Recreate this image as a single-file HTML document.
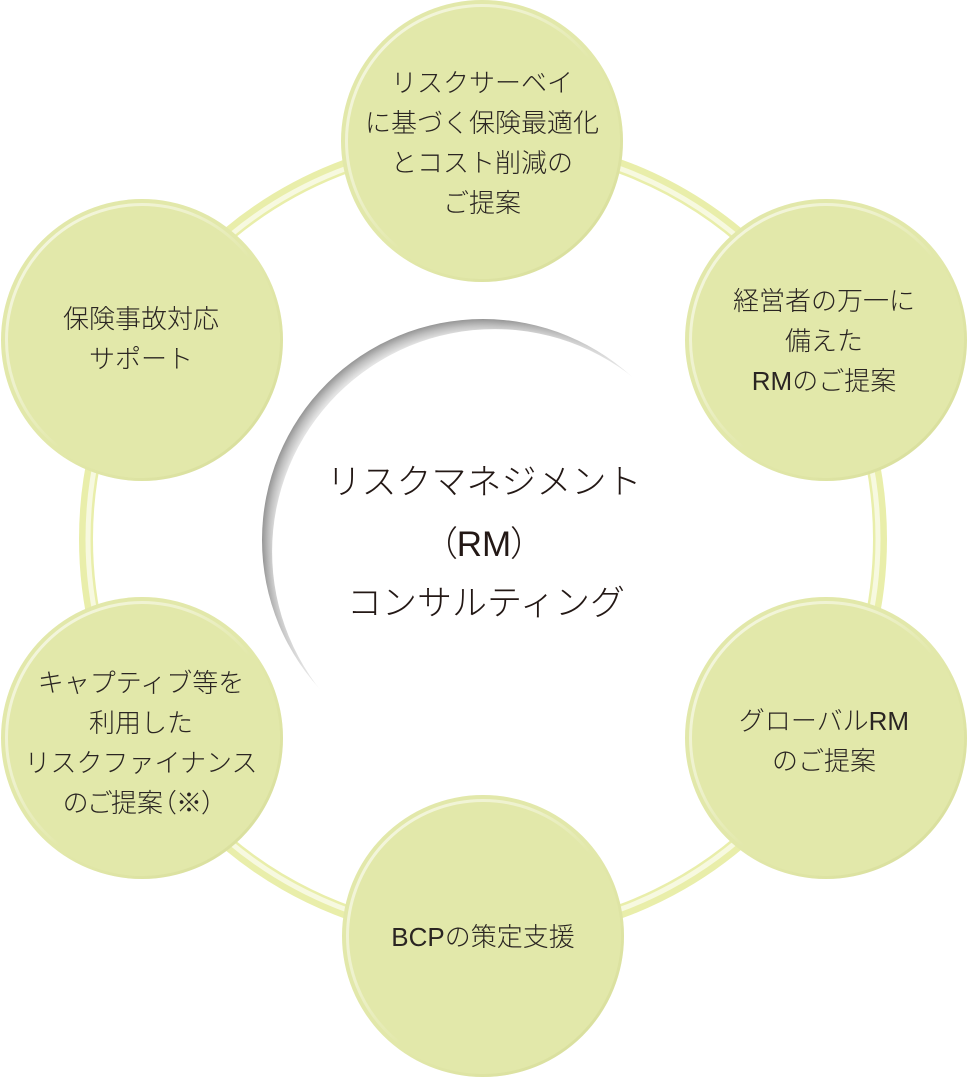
<!DOCTYPE html>
<html>
<head>
<meta charset="utf-8">
<style>
  html,body{margin:0;padding:0;background:#fff;}
  svg{display:block;}
  text{font-family:"Liberation Sans","Noto Sans CJK JP",sans-serif;font-weight:300;}
  .c{font-size:26px;fill:#2a2522;text-anchor:middle;}
  .m{font-size:35px;fill:#231815;text-anchor:middle;}
  .p{font-feature-settings:"palt";}
</style>
</head>
<body>
<svg width="968" height="1078" viewBox="0 0 968 1078" xmlns="http://www.w3.org/2000/svg">
  <defs>
    <linearGradient id="hl" x1="0" y1="0" x2="1" y2="1">
      <stop offset="0" stop-color="#ffffff" stop-opacity="0.7"/>
      <stop offset="0.35" stop-color="#ffffff" stop-opacity="0.4"/>
      <stop offset="0.55" stop-color="#ffffff" stop-opacity="0"/>
      <stop offset="1" stop-color="#ffffff" stop-opacity="0"/>
    </linearGradient>
    <linearGradient id="dk" x1="0" y1="0" x2="1" y2="1">
      <stop offset="0" stop-color="#cfd58f" stop-opacity="0"/>
      <stop offset="0.55" stop-color="#cfd58f" stop-opacity="0"/>
      <stop offset="1" stop-color="#cfd58f" stop-opacity="0.6"/>
    </linearGradient>
    <radialGradient id="gr" gradientUnits="userSpaceOnUse" cx="483" cy="540" r="221">
      <stop offset="0.9" stop-color="#f6f6f6"/>
      <stop offset="0.94" stop-color="#e2e2e2"/>
      <stop offset="0.97" stop-color="#c0c0c0"/>
      <stop offset="1" stop-color="#959595"/>
    </radialGradient>
    <linearGradient id="mg" gradientUnits="userSpaceOnUse" x1="489" y1="546" x2="327" y2="384">
      <stop offset="0" stop-color="#fff" stop-opacity="0.05"/>
      <stop offset="0.3" stop-color="#fff" stop-opacity="0.45"/>
      <stop offset="0.65" stop-color="#fff" stop-opacity="1"/>
      <stop offset="1" stop-color="#fff" stop-opacity="1"/>
    </linearGradient>
    <mask id="cm" maskUnits="userSpaceOnUse" x="0" y="0" width="968" height="1078">
      <rect x="0" y="0" width="968" height="1078" fill="url(#mg)"/>
    </mask>
  </defs>

  <!-- ring -->
  <circle cx="483" cy="539" r="397" fill="none" stroke="#e9eeaa" stroke-width="14"/>
  <circle cx="483" cy="539" r="395" fill="none" stroke="#f7f9e0" stroke-width="5"/>

  <!-- center crescent -->
  <circle cx="483" cy="540" r="221" fill="url(#gr)" mask="url(#cm)"/>
  <circle cx="494.7" cy="551.7" r="222.6" fill="#ffffff"/>

  <!-- green circles -->
  <g>
    <circle cx="482" cy="141" r="141" fill="#e2e8aa"/>
    <circle cx="482" cy="141" r="139.5" fill="none" stroke="url(#dk)" stroke-width="3"/>
    <circle cx="482" cy="141" r="135.5" fill="none" stroke="url(#hl)" stroke-width="3"/>
  </g>
  <g>
    <circle cx="826" cy="340" r="141" fill="#e2e8aa"/>
    <circle cx="826" cy="340" r="139.5" fill="none" stroke="url(#dk)" stroke-width="3"/>
    <circle cx="826" cy="340" r="135.5" fill="none" stroke="url(#hl)" stroke-width="3"/>
  </g>
  <g>
    <circle cx="826" cy="738" r="141" fill="#e2e8aa"/>
    <circle cx="826" cy="738" r="139.5" fill="none" stroke="url(#dk)" stroke-width="3"/>
    <circle cx="826" cy="738" r="135.5" fill="none" stroke="url(#hl)" stroke-width="3"/>
  </g>
  <g>
    <circle cx="483" cy="936" r="141" fill="#e2e8aa"/>
    <circle cx="483" cy="936" r="139.5" fill="none" stroke="url(#dk)" stroke-width="3"/>
    <circle cx="483" cy="936" r="135.5" fill="none" stroke="url(#hl)" stroke-width="3"/>
  </g>
  <g>
    <circle cx="142" cy="738" r="141" fill="#e2e8aa"/>
    <circle cx="142" cy="738" r="139.5" fill="none" stroke="url(#dk)" stroke-width="3"/>
    <circle cx="142" cy="738" r="135.5" fill="none" stroke="url(#hl)" stroke-width="3"/>
  </g>
  <g>
    <circle cx="142" cy="340" r="141" fill="#e2e8aa"/>
    <circle cx="142" cy="340" r="139.5" fill="none" stroke="url(#dk)" stroke-width="3"/>
    <circle cx="142" cy="340" r="135.5" fill="none" stroke="url(#hl)" stroke-width="3"/>
  </g>

  <!-- top circle text -->
  <text class="c" x="482" y="92">リスクサーベイ</text>
  <text class="c" x="482" y="132">に基づく保険最適化</text>
  <text class="c" x="482" y="172">とコスト削減の</text>
  <text class="c" x="482" y="212">ご提案</text>

  <!-- right top -->
  <text class="c" x="824" y="310">経営者の万一に</text>
  <text class="c" x="824" y="350">備えた</text>
  <text class="c" x="824" y="390">RMのご提案</text>

  <!-- right bottom -->
  <text class="c" x="824" y="730">グローバルRM</text>
  <text class="c" x="824" y="770">のご提案</text>

  <!-- bottom -->
  <text class="c" x="483" y="946">BCPの策定支援</text>

  <!-- left bottom -->
  <text class="c" x="141" y="692">キャプティブ等を</text>
  <text class="c" x="141" y="732">利用した</text>
  <text class="c" x="141" y="772">リスクファイナンス</text>
  <text class="c p" x="139" y="812">のご提案（※）</text>

  <!-- left top -->
  <text class="c" x="141" y="328">保険事故対応</text>
  <text class="c" x="141" y="368">サポート</text>

  <!-- center -->
  <text class="m" x="484" y="494">リスクマネジメント</text>
  <text class="m p" x="484" y="556">（RM）</text>
  <text class="m" x="486" y="615">コンサルティング</text>
</svg>
</body>
</html>
